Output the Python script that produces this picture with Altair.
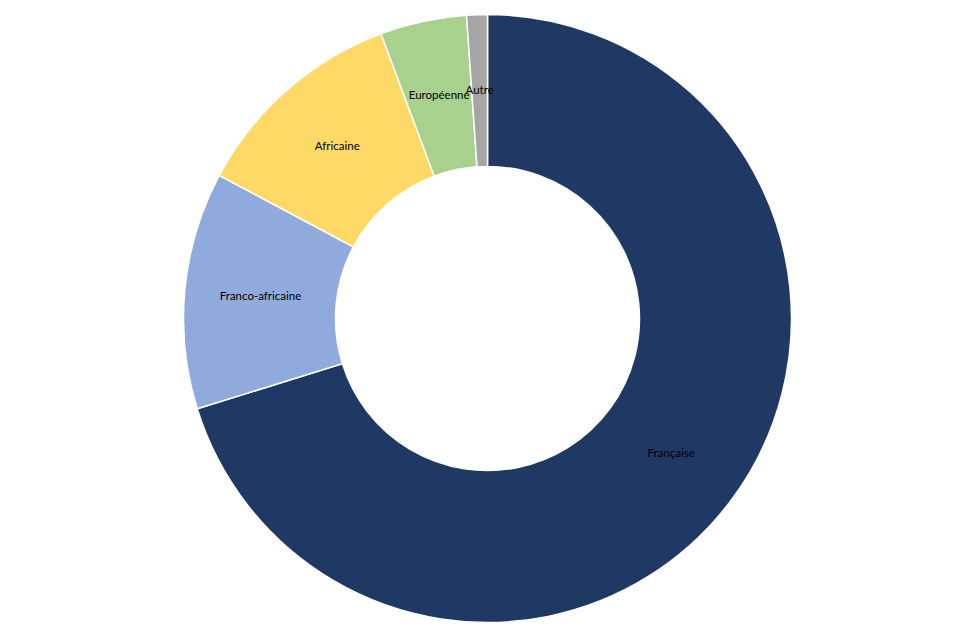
import altair as alt
import pandas as pd

categories = ["Française", "Franco-africaine", "Africaine", "Européenne", "Autre"]
values = [70.2, 12.6, 11.5, 4.6, 1.1]
colors = ["#203864", "#8FAADC", "#FFD966", "#A9D18E", "#A5A5A5"]

df = pd.DataFrame({"cat": categories, "val": values, "idx": list(range(len(categories)))})

cx, cy = 479.5, 310.5
base = alt.Chart(df).encode(
    theta=alt.Theta("val:Q", stack=True),
    order=alt.Order("idx:Q"),
)

arcs = base.mark_arc(outerRadius=304, innerRadius=152, stroke="white", strokeWidth=1.5).encode(
    color=alt.Color("cat:N", scale=alt.Scale(domain=categories, range=colors), legend=None),
    x=alt.value(cx),
    y=alt.value(cy),
)

labels = base.mark_text(radius=228, font="Lato", fontSize=11.5, color="black").encode(
    text="cat:N",
    x=alt.value(cx),
    y=alt.value(cy),
)

chart = (arcs + labels).properties(width=959, height=610, padding=0).configure_view(stroke=None)

chart.save("out.html", embed_options={"renderer": "svg", "actions": False})
